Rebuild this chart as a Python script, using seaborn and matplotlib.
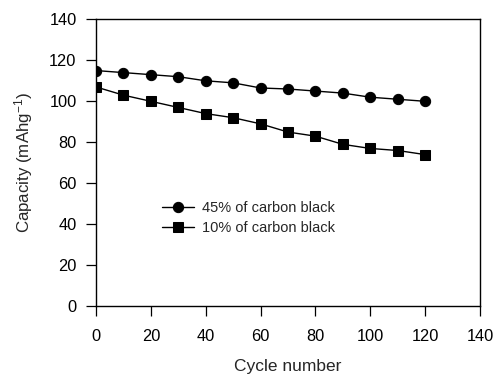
import matplotlib
matplotlib.use("Agg")
import matplotlib.pyplot as plt
import seaborn as sns
import pandas as pd

cycles = [0, 10, 20, 30, 40, 50, 60, 70, 80, 90, 100, 110, 120]
cap_45 = [115, 114, 113, 112, 110, 109, 106.5, 106, 105, 104, 102, 101, 100]
cap_10 = [107, 103, 100, 97, 94, 92, 89, 85, 83, 79, 77, 76, 74]
labels = ["45% of carbon black", "10% of carbon black"]

df = pd.concat([
    pd.DataFrame({"cycle": cycles, "cap": cap_45, "series": labels[0]}),
    pd.DataFrame({"cycle": cycles, "cap": cap_10, "series": labels[1]}),
])

sns.set_style("ticks")
plt.rcParams['font.family'] = ['Liberation Sans', 'DejaVu Sans']
plt.rcParams['mathtext.fontset'] = 'custom'
plt.rcParams['mathtext.rm'] = 'Liberation Sans'
plt.rcParams['mathtext.it'] = 'Liberation Sans'

fig = plt.figure(figsize=(4.98, 3.77), dpi=100)
ax = fig.add_axes([0.1928, 0.1875, 0.7711, 0.7613])

sns.lineplot(data=df, x="cycle", y="cap", hue="series", style="series",
             markers=["o", "s"], dashes=False, palette=["black", "black"],
             markersize=7.4, linewidth=1.0, markeredgecolor="black", ax=ax)

ax.set_xlim(0, 140)
ax.set_ylim(0, 140)
ax.set_xticks(range(0, 141, 20))
ax.set_yticks(range(0, 141, 20))
for s in ax.spines.values():
    s.set_visible(True)
    s.set_linewidth(1.0)
    s.set_color("black")
ax.tick_params(direction="out", length=7, width=0.9, labelsize=11.8, colors="black")
ax.tick_params(axis="x", pad=9)
ax.tick_params(axis="y", pad=7)
ax.set_xlabel("Cycle number", fontsize=12.5, labelpad=11)
ax.set_ylabel("Capacity (mAhg$^{-1}$)", fontsize=12.2, labelpad=10)

leg = ax.legend(loc="center left", bbox_to_anchor=(0.172, 0.307), frameon=False,
                fontsize=10.5, handlelength=2.2, handletextpad=0.55,
                labelspacing=0.4, borderpad=0, borderaxespad=0)

fig.savefig("out.png", dpi=100)
